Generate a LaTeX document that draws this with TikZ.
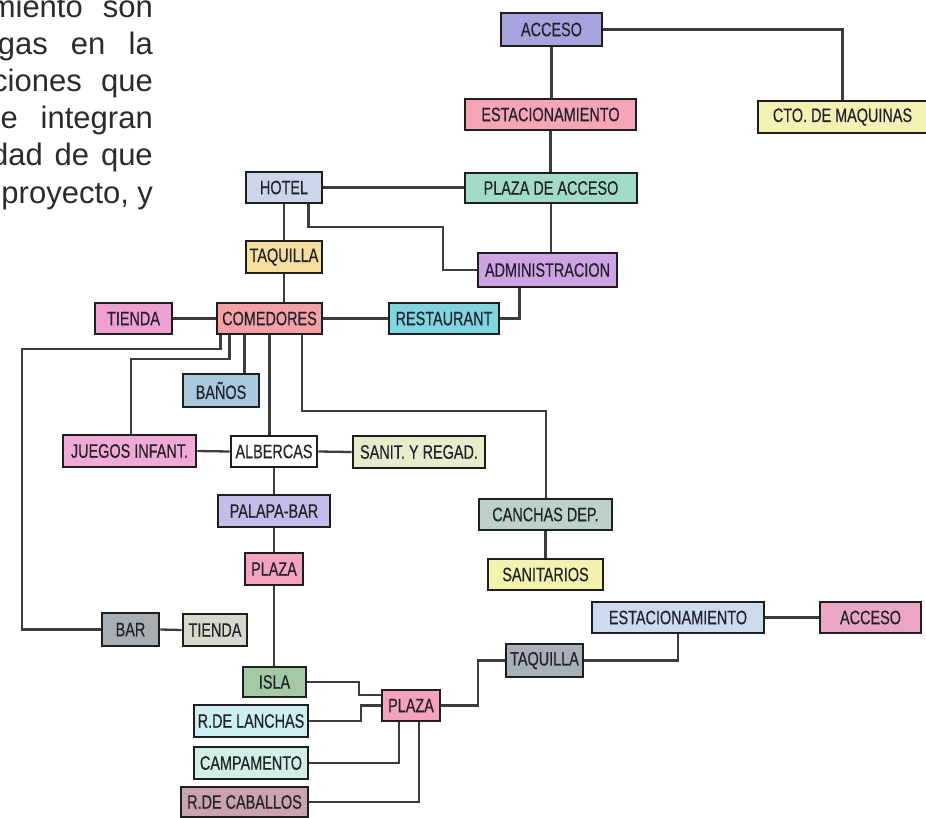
\documentclass[tikz,border=0pt]{standalone}
\usepackage{fontspec}
\setmainfont{Liberation Sans}
\newfontfamily\boxfont[FakeStretch=0.74,FakeBold=0.4]{Liberation Sans}
\usetikzlibrary{backgrounds}
\definecolor{bordc}{HTML}{1E1E1E}
\definecolor{linec}{HTML}{3C3C3C}
\definecolor{txtc}{HTML}{22222C}
\definecolor{parac}{HTML}{2B2B2B}
\definecolor{cAccA}{HTML}{A7A3DC}
\definecolor{cEstA}{HTML}{F5A5B5}
\definecolor{cCto}{HTML}{F2F2B4}
\definecolor{cPda}{HTML}{A3DCC6}
\definecolor{cHotel}{HTML}{CDD5EA}
\definecolor{cTaqA}{HTML}{F4DEA0}
\definecolor{cAdm}{HTML}{CDA3E3}
\definecolor{cTieA}{HTML}{EEA0D0}
\definecolor{cCom}{HTML}{F5A0A5}
\definecolor{cRest}{HTML}{80D6E0}
\definecolor{cBan}{HTML}{A9C9DD}
\definecolor{cJue}{HTML}{F0AAD4}
\definecolor{cSan}{HTML}{E6ECCC}
\definecolor{cPal}{HTML}{C3BDEA}
\definecolor{cCan}{HTML}{BCD2C8}
\definecolor{cSani}{HTML}{F2F2AE}
\definecolor{cPlaA}{HTML}{F5A3C3}
\definecolor{cBar}{HTML}{A7AFB5}
\definecolor{cTieB}{HTML}{DAD7CC}
\definecolor{cIsla}{HTML}{A3C9A5}
\definecolor{cLan}{HTML}{CDEEF2}
\definecolor{cCam}{HTML}{D0F0E6}
\definecolor{cCab}{HTML}{C9A3AD}
\definecolor{cPlaB}{HTML}{F5A3BC}
\definecolor{cTaqB}{HTML}{AAB0B8}
\definecolor{cEstB}{HTML}{CDDBEF}
\definecolor{cAccB}{HTML}{EBA5C5}
\tikzset{
  boxst/.style={draw=bordc, line width=2.8pt, inner sep=0pt, text=txtc,
    font=\boxfont\fontsize{19.5}{22}\selectfont},
  conn/.style={draw=linec, line width=2.3pt},
  para/.style={inner sep=0pt, text=parac, font=\fontsize{31}{37}\selectfont}
}
\newcommand\mkbox[7]{%
  \node[boxst, fill=#6, minimum width={(#4)-(#2)}, minimum height={(#5)-(#3)}]
    (#1) at ({((#2)+(#4))/2},{((#3)+(#5))/2}) {#7};}
\begin{document}
\begin{tikzpicture}[x=1pt,y=-1pt]
\useasboundingbox (0,0) rectangle (926,817);
% paragraph fragment (cut at the left edge, as in the source)
\begin{scope}
\clip (0,0) rectangle (926,817);
\node[para, anchor=base east] (p1) at (153,17)    {\hbox to 163pt{miento\hfill son}};
\node[para, anchor=base east] (p2) at (153,54.2)  {\hbox to 155pt{gas\hfill en\hfill la}};
\node[para, anchor=base east] (p3) at (153,91.4)  {\hbox to 160.6pt{ciones\hfill que}};
\node[para, anchor=base east] (p4) at (153,128.6) {\hbox to 169.5pt{ue\hfill integran}};
\node[para, anchor=base east] (p5) at (153,165.8) {\hbox to 161.7pt{dad\hfill de\hfill que}};
\node[para, anchor=base east] (p6) at (153,203)   {\hbox to 151.3pt{proyecto,\hfill y}};
\end{scope}
% boxes
\mkbox{acc1}{501}{13}{602}{46}{cAccA}{ACCESO}
\mkbox{est1}{465}{99}{636}{130}{cEstA}{ESTACIONAMIENTO}
\mkbox{cto}{758}{101}{927}{133}{cCto}{CTO. DE MAQUINAS}
\mkbox{pda}{465}{173}{637}{203}{cPda}{PLAZA DE ACCESO}
\mkbox{hotel}{246}{172}{322}{203}{cHotel}{HOTEL}
\mkbox{taq1}{246}{241}{322}{273}{cTaqA}{TAQUILLA}
\mkbox{adm}{478}{253}{617}{287}{cAdm}{ADMINISTRACION}
\mkbox{tie1}{95}{303}{172}{334}{cTieA}{TIENDA}
\mkbox{com}{217}{303}{322}{334}{cCom}{COMEDORES}
\mkbox{rest}{389}{303}{499}{334}{cRest}{RESTAURANT}
\mkbox{ban}{183}{374}{259}{407}{cBan}{BAÑOS}
\mkbox{jue}{63}{435}{196}{467}{cJue}{JUEGOS INFANT.}
\mkbox{alb}{231}{436}{317}{467}{white}{ALBERCAS}
\mkbox{san}{353}{436}{485}{468}{cSan}{SANIT. Y REGAD.}
\mkbox{pal}{218}{495}{330}{527}{cPal}{PALAPA-BAR}
\mkbox{can}{479}{499}{612}{530}{cCan}{CANCHAS DEP.}
\mkbox{sani}{488}{559}{603}{590}{cSani}{SANITARIOS}
\mkbox{pla1}{245}{553}{303}{585}{cPlaA}{PLAZA}
\mkbox{bar}{102}{613}{159}{646}{cBar}{BAR}
\mkbox{tie2}{183}{614}{247}{646}{cTieB}{TIENDA}
\mkbox{isla}{243}{667}{306}{697}{cIsla}{ISLA}
\mkbox{lan}{194}{705}{308}{737}{cLan}{R.DE LANCHAS}
\mkbox{cam}{194}{747}{308}{779}{cCam}{CAMPAMENTO}
\mkbox{cab}{181}{787}{308}{817}{cCab}{R.DE CABALLOS}
\mkbox{pla2}{382}{690}{440}{721}{cPlaB}{PLAZA}
\mkbox{taq2}{506}{644}{583}{677}{cTaqB}{TAQUILLA}
\mkbox{est2}{592}{602}{764}{633}{cEstB}{ESTACIONAMIENTO}
\mkbox{acc2}{820}{602}{921}{633}{cAccB}{ACCESO}
% bend points
\coordinate (h1) at (443,227);
\coordinate (c1) at (21.7,349.3);
\coordinate (c2) at (131,359.3);
\coordinate (c3) at (546,410.7);
\coordinate (c4) at (359,695);
\coordinate (c5) at (361,705.5);
\coordinate (c7) at (478.3,683);
\coordinate (cb) at ([xshift=29pt]com.south west);
\coordinate (cc) at ([xshift=86.6pt]com.south west);
% connectors
\begin{scope}[on background layer]
\draw[conn] (acc1.east) -| (cto.north);
\draw[conn] (acc1.south) -- (acc1.south |- est1.north);
\draw[conn] (est1.south) -- (est1.south |- pda.north);
\draw[conn] (hotel.east) -- (hotel.east -| pda.west);
\draw[conn] (pda.south) -- (pda.south |- adm.north);
\draw[conn] ([xshift=-15pt]hotel.south east) |- (h1) |- (adm.west);
\draw[conn] (hotel.south) -- (taq1.north);
\draw[conn] (taq1.south) -- (taq1.south |- com.north);
\draw[conn] (tie1.east) -- (com.west);
\draw[conn] (com.east) -- (rest.west);
\draw[conn] ([xshift=43pt]adm.south west) |- (rest.east);
\draw[conn] ([xshift=5pt]com.south west) |- (c1) |- (bar.west);
\draw[conn] ([xshift=14pt]com.south west) |- (c2) -- (c2 |- jue.north);
\draw[conn] (cb) -- (cb |- ban.north);
\draw[conn] (com.south) -- (com.south |- alb.north);
\draw[conn] (cc) |- (c3) -- (c3 |- can.north);
\draw[conn] (jue.east) -- (alb.west);
\draw[conn] (alb.east) -- (san.west);
\draw[conn] (alb.south) -- (alb.south |- pal.north);
\draw[conn] (pal.south) -- (pal.south |- pla1.north);
\draw[conn] (pla1.south) -- (pla1.south |- isla.north);
\draw[conn] (can.south) -- (can.south |- sani.north);
\draw[conn] (bar.east) -- (tie2.west);
\draw[conn] (isla.east) -| (c4) -- (c4 -| pla2.west);
\draw[conn] (lan.east) -| (c5) -- (pla2.west);
\draw[conn] (cam.east) -| ([xshift=18.3pt]pla2.south west);
\draw[conn] (cab.east) -| ([xshift=38.3pt]pla2.south west);
\draw[conn] (pla2.east) -- (pla2.east -| c7) |- (taq2.west);
\draw[conn] (taq2.east) -| (est2.south);
\draw[conn] (est2.east) -- (acc2.west);
\end{scope}
\end{tikzpicture}
\end{document}
